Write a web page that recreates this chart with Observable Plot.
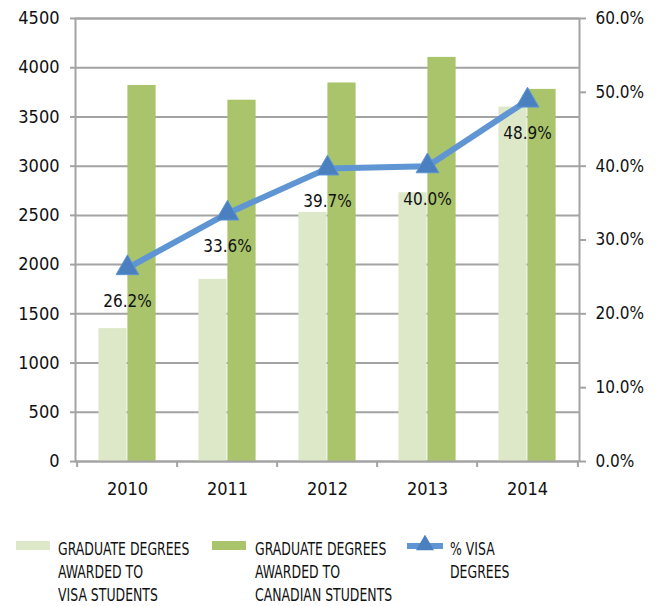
<!DOCTYPE html>
<html><head><meta charset="utf-8">
<script src="https://cdn.jsdelivr.net/npm/d3@7"></script>
<script src="https://cdn.jsdelivr.net/npm/@observablehq/plot@0.6"></script>
<style>
body{margin:0;background:#fff;font-family:"Liberation Sans Narrow","Arial Narrow","DejaVu Sans Condensed",sans-serif;color:#111;}
#wrap{position:relative;width:665px;height:606px;overflow:hidden;}
#chart{position:absolute;left:0;top:0;}
.sw{position:absolute;width:34px;height:9px;}
.lt{position:absolute;font-size:18px;line-height:23px;color:#111;white-space:nowrap;transform:scaleX(0.77);transform-origin:0 0;}
.mk{position:absolute;}
</style></head><body>
<div id="wrap"><div id="chart"></div><div id="legend"></div></div>
<script>
const years = ["2010", "2011", "2012", "2013", "2014"];
const visaDegrees = [1350, 1850, 2530, 2730, 3600];
const canadianDegrees = [3820, 3670, 3845, 4105, 3780];
const pctVisa = [26.2, 33.6, 39.7, 40.0, 48.9];
const countTicks = [0, 500, 1000, 1500, 2000, 2500, 3000, 3500, 4000, 4500];
const pctTicks = [0, 10, 20, 30, 40, 50, 60];
const legendLabels = [
  ["GRADUATE DEGREES", "AWARDED TO", "VISA STUDENTS"],
  ["GRADUATE DEGREES", "AWARDED TO", "CANADIAN STUDENTS"],
  ["% VISA", "DEGREES"]
];
const colors = {visa: "#dde8c9", canadian: "#aac46c", line: "#5f95d3", marker: "#4a7fc0", grid: "#a3a3a3"};

const W = 665, H = 510, mL = 75, mR = 86, mT = 18, mB = 49;
const band = (W - mL - mR) / years.length;
const barW = 29;
const outer = (band - 2 * barW) / 2;
const pctMax = 60, countMax = 4500, k = countMax / pctMax;

const rows = years.map((y, i) => ({year: y, visa: visaDegrees[i], canadian: canadianDegrees[i], pct: pctVisa[i]}));
const font = `"Liberation Sans Narrow","Arial Narrow","DejaVu Sans Condensed",sans-serif`;

const chart = Plot.plot({
  width: W, height: H,
  marginLeft: mL, marginRight: mR, marginTop: mT, marginBottom: mB,
  style: {fontFamily: font, color: "#111", background: "#fff"},
  x: {domain: years, padding: 0},
  y: {domain: [0, countMax]},
  marks: [
    Plot.gridY(countTicks, {stroke: colors.grid, strokeOpacity: 1, strokeWidth: 2}),
    Plot.barY(rows, {x: "year", y: "visa", fill: colors.visa, insetLeft: outer, insetRight: outer + barW}),
    Plot.barY(rows, {x: "year", y: "canadian", fill: colors.canadian, insetLeft: outer + barW, insetRight: outer}),
    Plot.frame({stroke: colors.grid, strokeWidth: 2}),
    Plot.axisY({anchor: "left", ticks: countTicks, tickFormat: d => String(d), tickSize: 5, tickPadding: 11, stroke: colors.grid, strokeWidth: 2, fill: "#111", fontSize: 18, label: null}),
    Plot.axisY({anchor: "right", ticks: pctTicks.map(p => p * k), tickFormat: v => (v / k).toFixed(1) + "%", tickSize: 6, tickPadding: 10, stroke: colors.grid, strokeWidth: 2, fill: "#111", fontSize: 17, label: null}),
    Plot.axisX({ticks: years, tickSize: 0, tickPadding: 21, fill: "#111", fontSize: 18, label: null}),
    Plot.axisX({ticks: years, tickSize: 6, tickFormat: () => "", stroke: colors.grid, strokeWidth: 2, dx: -band / 2, label: null}),
    Plot.axisX({ticks: [years[years.length - 1]], tickSize: 6, tickFormat: () => "", stroke: colors.grid, strokeWidth: 2, dx: band / 2, label: null}),
    Plot.lineY(rows, {x: "year", y: d => d.pct * k, stroke: colors.line, strokeWidth: 6}),
    Plot.dot(rows, {x: "year", y: d => d.pct * k, symbol: "triangle", r: 8.5, fill: colors.marker, stroke: colors.line, strokeWidth: 1}),
    Plot.text(rows, {x: "year", y: d => d.pct * k, text: d => d.pct.toFixed(1) + "%", dy: 33, fontSize: 17, fill: "#111"})
  ]
});
document.getElementById("chart").appendChild(chart);

// Legend (HTML, below the SVG)
const legend = document.getElementById("legend");
const itemLeft = [16, 212, 407];
const textLeft = [58, 255, 450];
legendLabels.forEach((lines, i) => {
  if (i < 2) {
    const sw = document.createElement("div");
    sw.className = "sw";
    sw.style.left = itemLeft[i] + "px";
    sw.style.top = "541px";
    sw.style.background = i === 0 ? colors.visa : colors.canadian;
    legend.appendChild(sw);
  } else {
    const ns = "http://www.w3.org/2000/svg";
    const svg = document.createElementNS(ns, "svg");
    svg.setAttribute("width", 40); svg.setAttribute("height", 20);
    svg.setAttribute("class", "mk");
    svg.style.left = (itemLeft[i] - 2) + "px"; svg.style.top = "535px";
    const ln = document.createElementNS(ns, "line");
    ln.setAttribute("x1", 2); ln.setAttribute("x2", 38); ln.setAttribute("y1", 11); ln.setAttribute("y2", 11);
    ln.setAttribute("stroke", colors.line); ln.setAttribute("stroke-width", 6);
    svg.appendChild(ln);
    const tri = document.createElementNS(ns, "path");
    tri.setAttribute("d", d3.symbol(d3.symbolTriangle, 140)());
    tri.setAttribute("transform", "translate(20,10)");
    tri.setAttribute("fill", colors.marker);
    svg.appendChild(tri);
    legend.appendChild(svg);
  }
  const t = document.createElement("div");
  t.className = "lt";
  t.style.left = textLeft[i] + "px";
  t.style.top = "537px";
  t.innerHTML = lines.join("<br>");
  legend.appendChild(t);
});
</script>
</body></html>
